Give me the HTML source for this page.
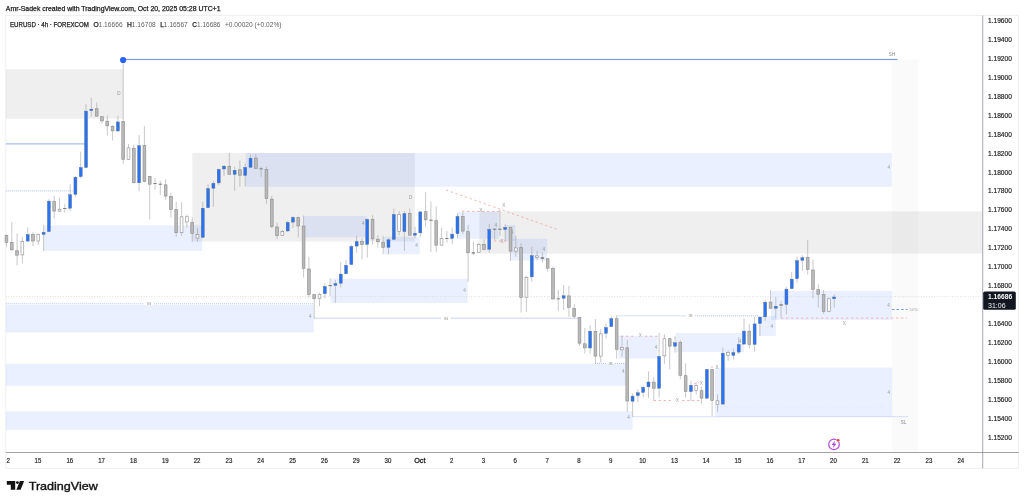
<!DOCTYPE html><html><head><meta charset="utf-8"><title>EURUSD 4h</title><style>html,body{margin:0;padding:0;background:#fff;}svg{display:block;}text{font-family:"Liberation Sans",sans-serif;}</style></head><body>
<svg width="1024" height="503" viewBox="0 0 1024 503">
<rect width="1024" height="503" fill="#fff"/>
<rect x="5.8" y="15.6" width="1012.8000000000001" height="452.7" fill="#fff" stroke="#ececec" stroke-width="0.8"/>
<rect x="892.3" y="59.4" width="26.1" height="393.1" fill="#fafafa"/>
<rect x="5.8" y="69.2" width="117.4" height="49.5" fill="rgba(110,110,110,0.115)"/>
<rect x="192.3" y="153.0" width="222.5" height="88.5" fill="rgba(110,110,110,0.115)"/>
<rect x="479.5" y="211.4" width="503.2" height="42.2" fill="rgba(110,110,110,0.115)"/>
<rect x="43.6" y="225.3" width="158.6" height="25.6" fill="rgba(41,106,255,0.097)"/>
<rect x="245.6" y="153.0" width="646.3" height="33.8" fill="rgba(41,106,255,0.097)"/>
<rect x="303.4" y="215.9" width="63.3" height="21.4" fill="rgba(41,106,255,0.097)"/>
<rect x="384.3" y="236.8" width="35.5" height="17.5" fill="rgba(41,106,255,0.097)"/>
<rect x="457.0" y="211.7" width="41.6" height="27.1" fill="rgba(41,106,255,0.097)"/>
<rect x="505.0" y="225.0" width="10.4" height="16.0" fill="rgba(41,106,255,0.097)"/>
<rect x="511.0" y="238.7" width="36.2" height="21.8" fill="rgba(41,106,255,0.097)"/>
<rect x="330.6" y="278.7" width="137.2" height="24.4" fill="rgba(41,106,255,0.097)"/>
<rect x="5.8" y="305.0" width="307.9" height="27.5" fill="rgba(41,106,255,0.097)"/>
<rect x="5.8" y="363.7" width="620.2" height="22.1" fill="rgba(41,106,255,0.097)"/>
<rect x="5.8" y="411.3" width="626.8" height="18.5" fill="rgba(41,106,255,0.097)"/>
<rect x="618.4" y="335.9" width="39.2" height="22.6" fill="rgba(41,106,255,0.097)"/>
<rect x="675.5" y="333.0" width="68.5" height="19.1" fill="rgba(41,106,255,0.097)"/>
<rect x="758.7" y="315.9" width="17.2" height="20.1" fill="rgba(41,106,255,0.097)"/>
<rect x="770.9" y="290.9" width="121.1" height="29.2" fill="rgba(41,106,255,0.097)"/>
<rect x="715.0" y="367.6" width="177.2" height="49.0" fill="rgba(41,106,255,0.097)"/>
<line x1="5.8" y1="296.7" x2="982.7" y2="296.7" stroke="#d4d4d4" stroke-width="0.8" stroke-dasharray="1 1.6"/>
<line x1="123.2" y1="59.4" x2="897.6" y2="59.4" stroke="#6d8fe6" stroke-width="1"/>
<line x1="5.8" y1="143.9" x2="85.0" y2="143.9" stroke="#8aa5ea" stroke-width="0.9"/>
<line x1="5.8" y1="190.9" x2="73.5" y2="190.9" stroke="#9db4ee" stroke-width="0.8" stroke-dasharray="1 1"/>
<line x1="5.8" y1="303.8" x2="144.0" y2="303.8" stroke="#9db4ee" stroke-width="0.8" stroke-dasharray="1 1"/>
<line x1="154.0" y1="303.8" x2="313.7" y2="303.8" stroke="#9db4ee" stroke-width="0.8" stroke-dasharray="1 1"/>
<line x1="313.8" y1="318.2" x2="441.0" y2="318.2" stroke="#b9c9f4" stroke-width="0.8"/>
<line x1="451.0" y1="318.2" x2="577.7" y2="318.2" stroke="#b9c9f4" stroke-width="0.8"/>
<line x1="595.0" y1="363.4" x2="606.0" y2="363.4" stroke="#9db4ee" stroke-width="0.8" stroke-dasharray="1 1"/>
<line x1="615.0" y1="363.4" x2="626.0" y2="363.4" stroke="#9db4ee" stroke-width="0.8" stroke-dasharray="1 1"/>
<line x1="616.5" y1="315.8" x2="686.0" y2="315.8" stroke="#9db4ee" stroke-width="0.8" stroke-dasharray="1 1"/>
<line x1="695.0" y1="315.8" x2="758.6" y2="315.8" stroke="#9db4ee" stroke-width="0.8" stroke-dasharray="1 1"/>
<line x1="632.6" y1="416.7" x2="908.3" y2="416.7" stroke="#9db4ee" stroke-width="0.8" stroke-dasharray="1 1"/>
<line x1="715.0" y1="406.9" x2="883.8" y2="406.9" stroke="#d5dff7" stroke-width="0.6" stroke-dasharray="1 2"/>
<line x1="892.0" y1="309.5" x2="907.5" y2="309.5" stroke="#5b86e5" stroke-width="0.9" stroke-dasharray="2.4 2.2"/>
<line x1="781.0" y1="318.1" x2="907.0" y2="318.1" stroke="#f3a3a3" stroke-width="0.8" stroke-dasharray="2.4 2.6"/>
<line x1="446.0" y1="190.0" x2="558.0" y2="229.7" stroke="#f3a3a3" stroke-width="0.8" stroke-dasharray="2.4 2.6"/>
<line x1="462.0" y1="211.4" x2="501.0" y2="211.4" stroke="#f3a3a3" stroke-width="0.8" stroke-dasharray="2.4 2.6"/>
<line x1="494.0" y1="241.0" x2="509.0" y2="241.0" stroke="#f3a3a3" stroke-width="0.8" stroke-dasharray="2.4 2.6"/>
<line x1="621.0" y1="336.2" x2="636.0" y2="336.2" stroke="#f3a3a3" stroke-width="0.8" stroke-dasharray="2.4 2.6"/>
<line x1="645.0" y1="336.2" x2="660.0" y2="336.2" stroke="#f3a3a3" stroke-width="0.8" stroke-dasharray="2.4 2.6"/>
<line x1="653.5" y1="400.5" x2="673.0" y2="400.5" stroke="#f3a3a3" stroke-width="0.8" stroke-dasharray="2.4 2.6"/>
<line x1="682.0" y1="400.5" x2="700.0" y2="400.5" stroke="#f3a3a3" stroke-width="0.8" stroke-dasharray="2.4 2.6"/>
<line x1="711.0" y1="367.0" x2="715.0" y2="367.0" stroke="#f3a3a3" stroke-width="0.8" stroke-dasharray="2 2"/>
<line x1="694.0" y1="384.0" x2="699.0" y2="382.5" stroke="#f3a3a3" stroke-width="0.8" stroke-dasharray="2 2"/>
<line x1="6.5" y1="234.3" x2="6.5" y2="246.8" stroke="#9c9c9c" stroke-width="0.55"/>
<rect x="5.06" y="235.4" width="2.8" height="6.9" fill="#b9b9b9" stroke="#8c8c8c" stroke-width="0.6"/>
<line x1="11.8" y1="221.8" x2="11.8" y2="251.0" stroke="#9c9c9c" stroke-width="0.55"/>
<rect x="10.36" y="242.6" width="2.8" height="7.2" fill="#b9b9b9" stroke="#8c8c8c" stroke-width="0.6"/>
<line x1="17.1" y1="233.5" x2="17.1" y2="265.3" stroke="#9c9c9c" stroke-width="0.55"/>
<rect x="15.67" y="250.8" width="2.8" height="4.4" fill="#b9b9b9" stroke="#8c8c8c" stroke-width="0.6"/>
<line x1="22.4" y1="236.8" x2="22.4" y2="263.2" stroke="#9c9c9c" stroke-width="0.55"/>
<rect x="20.97" y="241.6" width="2.8" height="13.3" fill="#fff" stroke="#8c8c8c" stroke-width="0.6"/>
<line x1="27.7" y1="227.3" x2="27.7" y2="241.5" stroke="#9c9c9c" stroke-width="0.55"/>
<rect x="26.18" y="234.5" width="3.0" height="6.6" fill="#2a73f0" stroke="#5b6b8c" stroke-width="0.4"/>
<line x1="33.0" y1="231.8" x2="33.0" y2="246.0" stroke="#9c9c9c" stroke-width="0.55"/>
<rect x="31.59" y="234.6" width="2.8" height="6.4" fill="#b9b9b9" stroke="#8c8c8c" stroke-width="0.6"/>
<line x1="38.3" y1="233.5" x2="38.3" y2="244.8" stroke="#9c9c9c" stroke-width="0.55"/>
<rect x="36.89" y="234.6" width="2.8" height="6.4" fill="#fff" stroke="#8c8c8c" stroke-width="0.6"/>
<line x1="43.6" y1="225.1" x2="43.6" y2="251.0" stroke="#9c9c9c" stroke-width="0.55"/>
<rect x="42.10" y="232.3" width="3.0" height="2.1" fill="#2a73f0" stroke="#5b6b8c" stroke-width="0.4"/>
<line x1="48.9" y1="199.2" x2="48.9" y2="231.9" stroke="#9c9c9c" stroke-width="0.55"/>
<rect x="47.40" y="201.1" width="3.0" height="30.5" fill="#2a73f0" stroke="#5b6b8c" stroke-width="0.4"/>
<line x1="54.2" y1="195.9" x2="54.2" y2="218.8" stroke="#9c9c9c" stroke-width="0.55"/>
<rect x="52.81" y="201.5" width="2.8" height="9.6" fill="#b9b9b9" stroke="#8c8c8c" stroke-width="0.6"/>
<line x1="59.5" y1="197.5" x2="59.5" y2="212.1" stroke="#9c9c9c" stroke-width="0.55"/>
<rect x="58.12" y="209.2" width="2.8" height="1.9" fill="#fff" stroke="#8c8c8c" stroke-width="0.6"/>
<line x1="64.8" y1="204.2" x2="64.8" y2="212.6" stroke="#9c9c9c" stroke-width="0.55"/>
<rect x="63.12" y="208.1" width="3.4" height="0.9" fill="#777"/>
<line x1="70.1" y1="184.2" x2="70.1" y2="211.4" stroke="#9c9c9c" stroke-width="0.55"/>
<rect x="68.63" y="194.7" width="3.0" height="13.5" fill="#2a73f0" stroke="#5b6b8c" stroke-width="0.4"/>
<line x1="75.4" y1="175.8" x2="75.4" y2="196.7" stroke="#9c9c9c" stroke-width="0.55"/>
<rect x="73.93" y="177.2" width="3.0" height="17.1" fill="#2a73f0" stroke="#5b6b8c" stroke-width="0.4"/>
<line x1="80.7" y1="151.8" x2="80.7" y2="178.5" stroke="#9c9c9c" stroke-width="0.55"/>
<rect x="79.24" y="167.5" width="3.0" height="9.1" fill="#2a73f0" stroke="#5b6b8c" stroke-width="0.4"/>
<line x1="86.0" y1="104.2" x2="86.0" y2="168.0" stroke="#9c9c9c" stroke-width="0.55"/>
<rect x="84.55" y="111.1" width="3.0" height="56.4" fill="#2a73f0" stroke="#5b6b8c" stroke-width="0.4"/>
<line x1="91.3" y1="97.5" x2="91.3" y2="116.7" stroke="#9c9c9c" stroke-width="0.55"/>
<rect x="89.85" y="109.1" width="3.0" height="1.6" fill="#2a73f0" stroke="#5b6b8c" stroke-width="0.4"/>
<line x1="96.7" y1="102.5" x2="96.7" y2="116.7" stroke="#9c9c9c" stroke-width="0.55"/>
<rect x="95.26" y="108.7" width="2.8" height="7.4" fill="#b9b9b9" stroke="#8c8c8c" stroke-width="0.6"/>
<line x1="102.0" y1="116.0" x2="102.0" y2="123.4" stroke="#9c9c9c" stroke-width="0.55"/>
<rect x="100.56" y="116.7" width="2.8" height="4.2" fill="#b9b9b9" stroke="#8c8c8c" stroke-width="0.6"/>
<line x1="107.3" y1="115.4" x2="107.3" y2="135.6" stroke="#9c9c9c" stroke-width="0.55"/>
<rect x="105.87" y="121.2" width="2.8" height="4.7" fill="#b9b9b9" stroke="#8c8c8c" stroke-width="0.6"/>
<line x1="112.6" y1="125.1" x2="112.6" y2="140.6" stroke="#9c9c9c" stroke-width="0.55"/>
<rect x="111.18" y="126.5" width="2.8" height="4.4" fill="#b9b9b9" stroke="#8c8c8c" stroke-width="0.6"/>
<line x1="117.9" y1="115.9" x2="117.9" y2="131.4" stroke="#9c9c9c" stroke-width="0.55"/>
<rect x="116.38" y="121.9" width="3.0" height="9.1" fill="#2a73f0" stroke="#5b6b8c" stroke-width="0.4"/>
<line x1="123.2" y1="59.9" x2="123.2" y2="164.0" stroke="#9c9c9c" stroke-width="0.55"/>
<rect x="121.79" y="121.5" width="2.8" height="37.8" fill="#b9b9b9" stroke="#8c8c8c" stroke-width="0.6"/>
<line x1="128.5" y1="143.9" x2="128.5" y2="159.8" stroke="#9c9c9c" stroke-width="0.55"/>
<rect x="127.09" y="147.9" width="2.8" height="11.4" fill="#fff" stroke="#8c8c8c" stroke-width="0.6"/>
<line x1="133.8" y1="144.3" x2="133.8" y2="183.5" stroke="#9c9c9c" stroke-width="0.55"/>
<rect x="132.40" y="148.2" width="2.8" height="34.5" fill="#b9b9b9" stroke="#8c8c8c" stroke-width="0.6"/>
<line x1="139.1" y1="135.1" x2="139.1" y2="191.0" stroke="#9c9c9c" stroke-width="0.55"/>
<rect x="137.61" y="145.6" width="3.0" height="37.2" fill="#2a73f0" stroke="#5b6b8c" stroke-width="0.4"/>
<line x1="144.4" y1="125.9" x2="144.4" y2="182.2" stroke="#9c9c9c" stroke-width="0.55"/>
<rect x="143.01" y="145.4" width="2.8" height="36.1" fill="#b9b9b9" stroke="#8c8c8c" stroke-width="0.6"/>
<line x1="149.7" y1="176.0" x2="149.7" y2="219.3" stroke="#9c9c9c" stroke-width="0.55"/>
<rect x="148.32" y="176.6" width="2.8" height="7.6" fill="#b9b9b9" stroke="#8c8c8c" stroke-width="0.6"/>
<line x1="155.0" y1="178.0" x2="155.0" y2="189.7" stroke="#9c9c9c" stroke-width="0.55"/>
<rect x="153.32" y="183.0" width="3.4" height="0.9" fill="#777"/>
<line x1="160.3" y1="180.8" x2="160.3" y2="195.0" stroke="#9c9c9c" stroke-width="0.55"/>
<rect x="158.63" y="183.7" width="3.4" height="1.0" fill="#777"/>
<line x1="165.6" y1="179.2" x2="165.6" y2="200.1" stroke="#9c9c9c" stroke-width="0.55"/>
<rect x="164.24" y="184.8" width="2.8" height="11.3" fill="#b9b9b9" stroke="#8c8c8c" stroke-width="0.6"/>
<line x1="170.9" y1="192.6" x2="170.9" y2="217.6" stroke="#9c9c9c" stroke-width="0.55"/>
<rect x="169.54" y="196.6" width="2.8" height="12.8" fill="#b9b9b9" stroke="#8c8c8c" stroke-width="0.6"/>
<line x1="176.2" y1="201.8" x2="176.2" y2="236.8" stroke="#9c9c9c" stroke-width="0.55"/>
<rect x="174.85" y="209.6" width="2.8" height="23.1" fill="#b9b9b9" stroke="#8c8c8c" stroke-width="0.6"/>
<line x1="181.6" y1="202.3" x2="181.6" y2="236.0" stroke="#9c9c9c" stroke-width="0.55"/>
<rect x="180.15" y="216.8" width="2.8" height="15.9" fill="#fff" stroke="#8c8c8c" stroke-width="0.6"/>
<line x1="186.9" y1="214.3" x2="186.9" y2="227.7" stroke="#9c9c9c" stroke-width="0.55"/>
<rect x="185.46" y="216.8" width="2.8" height="5.2" fill="#fff" stroke="#8c8c8c" stroke-width="0.6"/>
<line x1="192.2" y1="217.5" x2="192.2" y2="241.7" stroke="#9c9c9c" stroke-width="0.55"/>
<rect x="190.77" y="222.5" width="2.8" height="11.1" fill="#b9b9b9" stroke="#8c8c8c" stroke-width="0.6"/>
<line x1="197.5" y1="228.3" x2="197.5" y2="241.7" stroke="#9c9c9c" stroke-width="0.55"/>
<rect x="196.07" y="234.5" width="2.8" height="3.6" fill="#fff" stroke="#8c8c8c" stroke-width="0.6"/>
<line x1="202.8" y1="201.6" x2="202.8" y2="237.7" stroke="#9c9c9c" stroke-width="0.55"/>
<rect x="201.28" y="208.2" width="3.0" height="29.2" fill="#2a73f0" stroke="#5b6b8c" stroke-width="0.4"/>
<line x1="208.1" y1="184.2" x2="208.1" y2="208.1" stroke="#9c9c9c" stroke-width="0.55"/>
<rect x="206.58" y="188.6" width="3.0" height="19.1" fill="#2a73f0" stroke="#5b6b8c" stroke-width="0.4"/>
<line x1="213.4" y1="180.9" x2="213.4" y2="206.8" stroke="#9c9c9c" stroke-width="0.55"/>
<rect x="211.89" y="183.3" width="3.0" height="4.9" fill="#2a73f0" stroke="#5b6b8c" stroke-width="0.4"/>
<line x1="218.7" y1="168.7" x2="218.7" y2="185.1" stroke="#9c9c9c" stroke-width="0.55"/>
<rect x="217.20" y="169.4" width="3.0" height="13.5" fill="#2a73f0" stroke="#5b6b8c" stroke-width="0.4"/>
<line x1="224.0" y1="165.0" x2="224.0" y2="175.9" stroke="#9c9c9c" stroke-width="0.55"/>
<rect x="222.50" y="166.1" width="3.0" height="2.9" fill="#2a73f0" stroke="#5b6b8c" stroke-width="0.4"/>
<line x1="229.3" y1="153.0" x2="229.3" y2="174.7" stroke="#9c9c9c" stroke-width="0.55"/>
<rect x="227.91" y="166.2" width="2.8" height="8.1" fill="#b9b9b9" stroke="#8c8c8c" stroke-width="0.6"/>
<line x1="234.6" y1="166.7" x2="234.6" y2="190.9" stroke="#9c9c9c" stroke-width="0.55"/>
<rect x="233.11" y="170.2" width="3.0" height="4.1" fill="#2a73f0" stroke="#5b6b8c" stroke-width="0.4"/>
<line x1="239.9" y1="160.4" x2="239.9" y2="186.7" stroke="#9c9c9c" stroke-width="0.55"/>
<rect x="238.52" y="169.8" width="2.8" height="5.4" fill="#b9b9b9" stroke="#8c8c8c" stroke-width="0.6"/>
<line x1="245.2" y1="163.4" x2="245.2" y2="186.4" stroke="#9c9c9c" stroke-width="0.55"/>
<rect x="243.73" y="167.4" width="3.0" height="8.0" fill="#2a73f0" stroke="#5b6b8c" stroke-width="0.4"/>
<line x1="250.5" y1="154.2" x2="250.5" y2="167.7" stroke="#9c9c9c" stroke-width="0.55"/>
<rect x="249.03" y="158.2" width="3.0" height="9.1" fill="#2a73f0" stroke="#5b6b8c" stroke-width="0.4"/>
<line x1="255.8" y1="154.2" x2="255.8" y2="168.9" stroke="#9c9c9c" stroke-width="0.55"/>
<rect x="254.44" y="158.1" width="2.8" height="10.3" fill="#b9b9b9" stroke="#8c8c8c" stroke-width="0.6"/>
<line x1="261.1" y1="166.7" x2="261.1" y2="176.7" stroke="#9c9c9c" stroke-width="0.55"/>
<rect x="259.44" y="168.4" width="3.4" height="0.9" fill="#777"/>
<line x1="266.4" y1="166.7" x2="266.4" y2="203.8" stroke="#9c9c9c" stroke-width="0.55"/>
<rect x="265.05" y="169.5" width="2.8" height="29.0" fill="#b9b9b9" stroke="#8c8c8c" stroke-width="0.6"/>
<line x1="271.8" y1="195.9" x2="271.8" y2="228.5" stroke="#9c9c9c" stroke-width="0.55"/>
<rect x="270.36" y="199.1" width="2.8" height="27.5" fill="#b9b9b9" stroke="#8c8c8c" stroke-width="0.6"/>
<line x1="277.1" y1="222.5" x2="277.1" y2="239.2" stroke="#9c9c9c" stroke-width="0.55"/>
<rect x="275.66" y="227.0" width="2.8" height="8.6" fill="#b9b9b9" stroke="#8c8c8c" stroke-width="0.6"/>
<line x1="282.4" y1="230.0" x2="282.4" y2="236.0" stroke="#9c9c9c" stroke-width="0.55"/>
<rect x="280.97" y="231.6" width="2.8" height="3.9" fill="#fff" stroke="#8c8c8c" stroke-width="0.6"/>
<line x1="287.7" y1="220.8" x2="287.7" y2="231.7" stroke="#9c9c9c" stroke-width="0.55"/>
<rect x="286.17" y="222.4" width="3.0" height="8.6" fill="#2a73f0" stroke="#5b6b8c" stroke-width="0.4"/>
<line x1="293.0" y1="216.0" x2="293.0" y2="228.2" stroke="#9c9c9c" stroke-width="0.55"/>
<rect x="291.48" y="217.5" width="3.0" height="4.6" fill="#2a73f0" stroke="#5b6b8c" stroke-width="0.4"/>
<line x1="298.3" y1="216.5" x2="298.3" y2="237.5" stroke="#9c9c9c" stroke-width="0.55"/>
<rect x="296.89" y="217.6" width="2.8" height="8.4" fill="#b9b9b9" stroke="#8c8c8c" stroke-width="0.6"/>
<line x1="303.6" y1="215.5" x2="303.6" y2="277.6" stroke="#9c9c9c" stroke-width="0.55"/>
<rect x="302.19" y="226.1" width="2.8" height="42.3" fill="#b9b9b9" stroke="#8c8c8c" stroke-width="0.6"/>
<line x1="308.9" y1="256.7" x2="308.9" y2="297.6" stroke="#9c9c9c" stroke-width="0.55"/>
<rect x="307.50" y="269.0" width="2.8" height="25.3" fill="#b9b9b9" stroke="#8c8c8c" stroke-width="0.6"/>
<line x1="314.2" y1="293.9" x2="314.2" y2="318.5" stroke="#9c9c9c" stroke-width="0.55"/>
<rect x="312.80" y="294.6" width="2.8" height="4.1" fill="#b9b9b9" stroke="#8c8c8c" stroke-width="0.6"/>
<line x1="319.5" y1="292.6" x2="319.5" y2="306.0" stroke="#9c9c9c" stroke-width="0.55"/>
<rect x="318.11" y="294.3" width="2.8" height="4.4" fill="#fff" stroke="#8c8c8c" stroke-width="0.6"/>
<line x1="324.8" y1="283.5" x2="324.8" y2="298.5" stroke="#9c9c9c" stroke-width="0.55"/>
<rect x="323.32" y="286.5" width="3.0" height="7.3" fill="#2a73f0" stroke="#5b6b8c" stroke-width="0.4"/>
<line x1="330.1" y1="278.4" x2="330.1" y2="295.9" stroke="#9c9c9c" stroke-width="0.55"/>
<rect x="328.42" y="285.1" width="3.4" height="1.0" fill="#777"/>
<line x1="335.4" y1="280.1" x2="335.4" y2="302.6" stroke="#9c9c9c" stroke-width="0.55"/>
<rect x="333.93" y="283.6" width="3.0" height="1.8" fill="#2a73f0" stroke="#5b6b8c" stroke-width="0.4"/>
<line x1="340.7" y1="262.5" x2="340.7" y2="287.6" stroke="#9c9c9c" stroke-width="0.55"/>
<rect x="339.23" y="274.1" width="3.0" height="9.1" fill="#2a73f0" stroke="#5b6b8c" stroke-width="0.4"/>
<line x1="346.0" y1="260.0" x2="346.0" y2="274.2" stroke="#9c9c9c" stroke-width="0.55"/>
<rect x="344.54" y="265.3" width="3.0" height="8.5" fill="#2a73f0" stroke="#5b6b8c" stroke-width="0.4"/>
<line x1="351.4" y1="244.3" x2="351.4" y2="264.8" stroke="#9c9c9c" stroke-width="0.55"/>
<rect x="349.85" y="246.5" width="3.0" height="18.0" fill="#2a73f0" stroke="#5b6b8c" stroke-width="0.4"/>
<line x1="356.6" y1="235.9" x2="356.6" y2="252.6" stroke="#9c9c9c" stroke-width="0.55"/>
<rect x="355.15" y="241.5" width="3.0" height="4.6" fill="#2a73f0" stroke="#5b6b8c" stroke-width="0.4"/>
<line x1="362.0" y1="238.4" x2="362.0" y2="259.3" stroke="#9c9c9c" stroke-width="0.55"/>
<rect x="360.56" y="241.6" width="2.8" height="2.7" fill="#b9b9b9" stroke="#8c8c8c" stroke-width="0.6"/>
<line x1="367.3" y1="218.4" x2="367.3" y2="257.6" stroke="#9c9c9c" stroke-width="0.55"/>
<rect x="365.76" y="219.4" width="3.0" height="25.0" fill="#2a73f0" stroke="#5b6b8c" stroke-width="0.4"/>
<line x1="372.6" y1="215.1" x2="372.6" y2="244.6" stroke="#9c9c9c" stroke-width="0.55"/>
<rect x="371.17" y="219.5" width="2.8" height="19.4" fill="#b9b9b9" stroke="#8c8c8c" stroke-width="0.6"/>
<line x1="377.9" y1="235.1" x2="377.9" y2="247.6" stroke="#9c9c9c" stroke-width="0.55"/>
<rect x="376.48" y="239.2" width="2.8" height="2.6" fill="#b9b9b9" stroke="#8c8c8c" stroke-width="0.6"/>
<line x1="383.2" y1="235.9" x2="383.2" y2="254.3" stroke="#9c9c9c" stroke-width="0.55"/>
<rect x="381.78" y="242.1" width="2.8" height="5.2" fill="#b9b9b9" stroke="#8c8c8c" stroke-width="0.6"/>
<line x1="388.5" y1="238.4" x2="388.5" y2="254.3" stroke="#9c9c9c" stroke-width="0.55"/>
<rect x="386.99" y="239.8" width="3.0" height="7.6" fill="#2a73f0" stroke="#5b6b8c" stroke-width="0.4"/>
<line x1="393.8" y1="208.4" x2="393.8" y2="239.8" stroke="#9c9c9c" stroke-width="0.55"/>
<rect x="392.29" y="214.4" width="3.0" height="25.0" fill="#2a73f0" stroke="#5b6b8c" stroke-width="0.4"/>
<line x1="399.1" y1="210.9" x2="399.1" y2="235.1" stroke="#9c9c9c" stroke-width="0.55"/>
<rect x="397.70" y="214.5" width="2.8" height="16.9" fill="#fff" stroke="#8c8c8c" stroke-width="0.6"/>
<line x1="404.4" y1="210.9" x2="404.4" y2="251.0" stroke="#9c9c9c" stroke-width="0.55"/>
<rect x="402.91" y="213.6" width="3.0" height="18.0" fill="#2a73f0" stroke="#5b6b8c" stroke-width="0.4"/>
<line x1="409.7" y1="208.4" x2="409.7" y2="235.6" stroke="#9c9c9c" stroke-width="0.55"/>
<rect x="408.31" y="213.4" width="2.8" height="21.8" fill="#b9b9b9" stroke="#8c8c8c" stroke-width="0.6"/>
<line x1="415.0" y1="226.8" x2="415.0" y2="238.1" stroke="#9c9c9c" stroke-width="0.55"/>
<rect x="413.52" y="233.3" width="3.0" height="1.9" fill="#2a73f0" stroke="#5b6b8c" stroke-width="0.4"/>
<line x1="420.3" y1="211.4" x2="420.3" y2="236.8" stroke="#9c9c9c" stroke-width="0.55"/>
<rect x="418.82" y="211.9" width="3.0" height="21.0" fill="#2a73f0" stroke="#5b6b8c" stroke-width="0.4"/>
<line x1="425.6" y1="192.0" x2="425.6" y2="226.8" stroke="#9c9c9c" stroke-width="0.55"/>
<rect x="424.23" y="211.7" width="2.8" height="8.1" fill="#b9b9b9" stroke="#8c8c8c" stroke-width="0.6"/>
<line x1="430.9" y1="201.4" x2="430.9" y2="251.8" stroke="#9c9c9c" stroke-width="0.55"/>
<rect x="429.24" y="219.7" width="3.4" height="1.0" fill="#777"/>
<line x1="436.2" y1="206.4" x2="436.2" y2="251.8" stroke="#9c9c9c" stroke-width="0.55"/>
<rect x="434.84" y="220.7" width="2.8" height="24.5" fill="#b9b9b9" stroke="#8c8c8c" stroke-width="0.6"/>
<line x1="441.6" y1="227.6" x2="441.6" y2="245.6" stroke="#9c9c9c" stroke-width="0.55"/>
<rect x="440.15" y="238.4" width="2.8" height="6.7" fill="#fff" stroke="#8c8c8c" stroke-width="0.6"/>
<line x1="446.9" y1="230.9" x2="446.9" y2="242.6" stroke="#9c9c9c" stroke-width="0.55"/>
<rect x="445.15" y="238.1" width="3.4" height="0.9" fill="#777"/>
<line x1="452.2" y1="227.6" x2="452.2" y2="243.8" stroke="#9c9c9c" stroke-width="0.55"/>
<rect x="450.66" y="234.1" width="3.0" height="4.4" fill="#2a73f0" stroke="#5b6b8c" stroke-width="0.4"/>
<line x1="457.5" y1="213.4" x2="457.5" y2="238.4" stroke="#9c9c9c" stroke-width="0.55"/>
<rect x="455.97" y="216.4" width="3.0" height="17.3" fill="#2a73f0" stroke="#5b6b8c" stroke-width="0.4"/>
<line x1="462.8" y1="212.1" x2="462.8" y2="234.3" stroke="#9c9c9c" stroke-width="0.55"/>
<rect x="461.37" y="216.5" width="2.8" height="14.6" fill="#b9b9b9" stroke="#8c8c8c" stroke-width="0.6"/>
<line x1="468.1" y1="225.1" x2="468.1" y2="281.7" stroke="#9c9c9c" stroke-width="0.55"/>
<rect x="466.68" y="231.7" width="2.8" height="21.1" fill="#b9b9b9" stroke="#8c8c8c" stroke-width="0.6"/>
<line x1="473.4" y1="241.3" x2="473.4" y2="255.1" stroke="#9c9c9c" stroke-width="0.55"/>
<rect x="471.68" y="252.3" width="3.4" height="1.2" fill="#777"/>
<line x1="478.7" y1="242.6" x2="478.7" y2="253.0" stroke="#9c9c9c" stroke-width="0.55"/>
<rect x="477.29" y="244.6" width="2.8" height="7.8" fill="#fff" stroke="#8c8c8c" stroke-width="0.6"/>
<line x1="484.0" y1="239.3" x2="484.0" y2="250.1" stroke="#9c9c9c" stroke-width="0.55"/>
<rect x="482.60" y="244.6" width="2.8" height="4.7" fill="#b9b9b9" stroke="#8c8c8c" stroke-width="0.6"/>
<line x1="489.3" y1="224.2" x2="489.3" y2="252.6" stroke="#9c9c9c" stroke-width="0.55"/>
<rect x="487.80" y="229.4" width="3.0" height="20.0" fill="#2a73f0" stroke="#5b6b8c" stroke-width="0.4"/>
<line x1="494.6" y1="228.4" x2="494.6" y2="240.1" stroke="#9c9c9c" stroke-width="0.55"/>
<rect x="492.91" y="228.7" width="3.4" height="1.0" fill="#777"/>
<line x1="499.9" y1="210.0" x2="499.9" y2="235.9" stroke="#9c9c9c" stroke-width="0.55"/>
<rect x="498.21" y="228.7" width="3.4" height="1.0" fill="#777"/>
<line x1="505.2" y1="224.2" x2="505.2" y2="240.9" stroke="#9c9c9c" stroke-width="0.55"/>
<rect x="503.72" y="227.4" width="3.0" height="2.1" fill="#2a73f0" stroke="#5b6b8c" stroke-width="0.4"/>
<line x1="510.5" y1="226.7" x2="510.5" y2="261.0" stroke="#9c9c9c" stroke-width="0.55"/>
<rect x="509.13" y="227.5" width="2.8" height="23.6" fill="#b9b9b9" stroke="#8c8c8c" stroke-width="0.6"/>
<line x1="515.8" y1="235.9" x2="515.8" y2="256.8" stroke="#9c9c9c" stroke-width="0.55"/>
<rect x="514.43" y="247.9" width="2.8" height="3.2" fill="#fff" stroke="#8c8c8c" stroke-width="0.6"/>
<line x1="521.1" y1="243.3" x2="521.1" y2="312.6" stroke="#9c9c9c" stroke-width="0.55"/>
<rect x="519.74" y="247.6" width="2.8" height="49.7" fill="#b9b9b9" stroke="#8c8c8c" stroke-width="0.6"/>
<line x1="526.4" y1="275.8" x2="526.4" y2="311.8" stroke="#9c9c9c" stroke-width="0.55"/>
<rect x="525.04" y="277.3" width="2.8" height="19.9" fill="#fff" stroke="#8c8c8c" stroke-width="0.6"/>
<line x1="531.8" y1="246.8" x2="531.8" y2="281.8" stroke="#9c9c9c" stroke-width="0.55"/>
<rect x="530.25" y="255.6" width="3.0" height="21.3" fill="#2a73f0" stroke="#5b6b8c" stroke-width="0.4"/>
<line x1="537.1" y1="250.9" x2="537.1" y2="260.1" stroke="#9c9c9c" stroke-width="0.55"/>
<rect x="535.66" y="255.9" width="2.8" height="1.4" fill="#fff" stroke="#8c8c8c" stroke-width="0.6"/>
<line x1="542.4" y1="252.6" x2="542.4" y2="262.6" stroke="#9c9c9c" stroke-width="0.55"/>
<rect x="540.66" y="257.3" width="3.4" height="1.5" fill="#777"/>
<line x1="547.7" y1="257.6" x2="547.7" y2="271.8" stroke="#9c9c9c" stroke-width="0.55"/>
<rect x="546.27" y="258.8" width="2.8" height="9.4" fill="#b9b9b9" stroke="#8c8c8c" stroke-width="0.6"/>
<line x1="553.0" y1="266.7" x2="553.0" y2="299.4" stroke="#9c9c9c" stroke-width="0.55"/>
<rect x="551.57" y="268.5" width="2.8" height="30.5" fill="#b9b9b9" stroke="#8c8c8c" stroke-width="0.6"/>
<line x1="558.3" y1="289.7" x2="558.3" y2="310.9" stroke="#9c9c9c" stroke-width="0.55"/>
<rect x="556.58" y="298.4" width="3.4" height="0.9" fill="#777"/>
<line x1="563.6" y1="285.0" x2="563.6" y2="310.1" stroke="#9c9c9c" stroke-width="0.55"/>
<rect x="562.09" y="295.8" width="3.0" height="2.4" fill="#2a73f0" stroke="#5b6b8c" stroke-width="0.4"/>
<line x1="568.9" y1="285.9" x2="568.9" y2="316.8" stroke="#9c9c9c" stroke-width="0.55"/>
<rect x="567.49" y="295.9" width="2.8" height="11.4" fill="#b9b9b9" stroke="#8c8c8c" stroke-width="0.6"/>
<line x1="574.2" y1="304.2" x2="574.2" y2="318.4" stroke="#9c9c9c" stroke-width="0.55"/>
<rect x="572.80" y="308.4" width="2.8" height="8.1" fill="#b9b9b9" stroke="#8c8c8c" stroke-width="0.6"/>
<line x1="579.5" y1="316.8" x2="579.5" y2="346.0" stroke="#9c9c9c" stroke-width="0.55"/>
<rect x="578.10" y="317.4" width="2.8" height="25.8" fill="#b9b9b9" stroke="#8c8c8c" stroke-width="0.6"/>
<line x1="584.8" y1="328.1" x2="584.8" y2="353.5" stroke="#9c9c9c" stroke-width="0.55"/>
<rect x="583.41" y="343.8" width="2.8" height="4.1" fill="#b9b9b9" stroke="#8c8c8c" stroke-width="0.6"/>
<line x1="590.1" y1="325.1" x2="590.1" y2="353.5" stroke="#9c9c9c" stroke-width="0.55"/>
<rect x="588.62" y="331.2" width="3.0" height="16.8" fill="#2a73f0" stroke="#5b6b8c" stroke-width="0.4"/>
<line x1="595.4" y1="319.0" x2="595.4" y2="363.4" stroke="#9c9c9c" stroke-width="0.55"/>
<rect x="594.02" y="331.3" width="2.8" height="24.8" fill="#b9b9b9" stroke="#8c8c8c" stroke-width="0.6"/>
<line x1="600.7" y1="329.1" x2="600.7" y2="362.5" stroke="#9c9c9c" stroke-width="0.55"/>
<rect x="599.33" y="333.8" width="2.8" height="22.3" fill="#fff" stroke="#8c8c8c" stroke-width="0.6"/>
<line x1="606.0" y1="323.4" x2="606.0" y2="338.5" stroke="#9c9c9c" stroke-width="0.55"/>
<rect x="604.53" y="327.5" width="3.0" height="5.8" fill="#2a73f0" stroke="#5b6b8c" stroke-width="0.4"/>
<line x1="611.3" y1="316.2" x2="611.3" y2="327.1" stroke="#9c9c9c" stroke-width="0.55"/>
<rect x="609.84" y="318.6" width="3.0" height="8.0" fill="#2a73f0" stroke="#5b6b8c" stroke-width="0.4"/>
<line x1="616.6" y1="315.9" x2="616.6" y2="358.5" stroke="#9c9c9c" stroke-width="0.55"/>
<rect x="615.25" y="318.7" width="2.8" height="30.6" fill="#b9b9b9" stroke="#8c8c8c" stroke-width="0.6"/>
<line x1="622.0" y1="335.9" x2="622.0" y2="356.8" stroke="#9c9c9c" stroke-width="0.55"/>
<rect x="620.55" y="347.6" width="2.8" height="2.2" fill="#fff" stroke="#8c8c8c" stroke-width="0.6"/>
<line x1="627.3" y1="340.0" x2="627.3" y2="411.8" stroke="#9c9c9c" stroke-width="0.55"/>
<rect x="625.86" y="347.8" width="2.8" height="53.3" fill="#b9b9b9" stroke="#8c8c8c" stroke-width="0.6"/>
<line x1="632.6" y1="393.4" x2="632.6" y2="416.8" stroke="#9c9c9c" stroke-width="0.55"/>
<rect x="631.06" y="396.1" width="3.0" height="5.1" fill="#2a73f0" stroke="#5b6b8c" stroke-width="0.4"/>
<line x1="637.9" y1="389.3" x2="637.9" y2="402.1" stroke="#9c9c9c" stroke-width="0.55"/>
<rect x="636.37" y="392.8" width="3.0" height="2.9" fill="#2a73f0" stroke="#5b6b8c" stroke-width="0.4"/>
<line x1="643.2" y1="385.9" x2="643.2" y2="397.1" stroke="#9c9c9c" stroke-width="0.55"/>
<rect x="641.68" y="387.3" width="3.0" height="5.1" fill="#2a73f0" stroke="#5b6b8c" stroke-width="0.4"/>
<line x1="648.5" y1="371.4" x2="648.5" y2="398.1" stroke="#9c9c9c" stroke-width="0.55"/>
<rect x="646.98" y="382.0" width="3.0" height="4.9" fill="#2a73f0" stroke="#5b6b8c" stroke-width="0.4"/>
<line x1="653.8" y1="377.1" x2="653.8" y2="400.5" stroke="#9c9c9c" stroke-width="0.55"/>
<rect x="652.39" y="382.1" width="2.8" height="6.1" fill="#b9b9b9" stroke="#8c8c8c" stroke-width="0.6"/>
<line x1="659.1" y1="332.7" x2="659.1" y2="397.6" stroke="#9c9c9c" stroke-width="0.55"/>
<rect x="657.59" y="356.4" width="3.0" height="31.8" fill="#2a73f0" stroke="#5b6b8c" stroke-width="0.4"/>
<line x1="664.4" y1="334.2" x2="664.4" y2="364.2" stroke="#9c9c9c" stroke-width="0.55"/>
<rect x="663.00" y="338.8" width="2.8" height="17.1" fill="#fff" stroke="#8c8c8c" stroke-width="0.6"/>
<line x1="669.7" y1="337.6" x2="669.7" y2="369.3" stroke="#9c9c9c" stroke-width="0.55"/>
<rect x="668.31" y="338.7" width="2.8" height="7.4" fill="#b9b9b9" stroke="#8c8c8c" stroke-width="0.6"/>
<line x1="675.0" y1="335.9" x2="675.0" y2="352.6" stroke="#9c9c9c" stroke-width="0.55"/>
<rect x="673.51" y="342.8" width="3.0" height="3.4" fill="#2a73f0" stroke="#5b6b8c" stroke-width="0.4"/>
<line x1="680.3" y1="340.0" x2="680.3" y2="379.2" stroke="#9c9c9c" stroke-width="0.55"/>
<rect x="678.92" y="342.3" width="2.8" height="33.0" fill="#b9b9b9" stroke="#8c8c8c" stroke-width="0.6"/>
<line x1="685.6" y1="363.4" x2="685.6" y2="397.6" stroke="#9c9c9c" stroke-width="0.55"/>
<rect x="684.22" y="375.7" width="2.8" height="15.8" fill="#b9b9b9" stroke="#8c8c8c" stroke-width="0.6"/>
<line x1="690.9" y1="380.9" x2="690.9" y2="401.0" stroke="#9c9c9c" stroke-width="0.55"/>
<rect x="689.43" y="385.3" width="3.0" height="6.3" fill="#2a73f0" stroke="#5b6b8c" stroke-width="0.4"/>
<line x1="696.2" y1="382.6" x2="696.2" y2="394.3" stroke="#9c9c9c" stroke-width="0.55"/>
<rect x="694.84" y="385.4" width="2.8" height="4.9" fill="#fff" stroke="#8c8c8c" stroke-width="0.6"/>
<line x1="701.5" y1="386.8" x2="701.5" y2="403.8" stroke="#9c9c9c" stroke-width="0.55"/>
<rect x="700.14" y="390.7" width="2.8" height="7.4" fill="#b9b9b9" stroke="#8c8c8c" stroke-width="0.6"/>
<line x1="706.9" y1="368.9" x2="706.9" y2="398.8" stroke="#9c9c9c" stroke-width="0.55"/>
<rect x="705.35" y="369.4" width="3.0" height="28.8" fill="#2a73f0" stroke="#5b6b8c" stroke-width="0.4"/>
<line x1="712.1" y1="368.9" x2="712.1" y2="416.0" stroke="#9c9c9c" stroke-width="0.55"/>
<rect x="710.75" y="369.5" width="2.8" height="30.8" fill="#b9b9b9" stroke="#8c8c8c" stroke-width="0.6"/>
<line x1="717.5" y1="394.3" x2="717.5" y2="411.8" stroke="#9c9c9c" stroke-width="0.55"/>
<rect x="716.06" y="400.8" width="2.8" height="3.6" fill="#fff" stroke="#8c8c8c" stroke-width="0.6"/>
<line x1="722.8" y1="347.5" x2="722.8" y2="404.5" stroke="#9c9c9c" stroke-width="0.55"/>
<rect x="721.27" y="353.1" width="3.0" height="51.0" fill="#2a73f0" stroke="#5b6b8c" stroke-width="0.4"/>
<line x1="728.1" y1="350.0" x2="728.1" y2="360.9" stroke="#9c9c9c" stroke-width="0.55"/>
<rect x="726.67" y="352.5" width="2.8" height="2.7" fill="#fff" stroke="#8c8c8c" stroke-width="0.6"/>
<line x1="733.4" y1="348.4" x2="733.4" y2="359.6" stroke="#9c9c9c" stroke-width="0.55"/>
<rect x="731.88" y="352.5" width="3.0" height="2.9" fill="#2a73f0" stroke="#5b6b8c" stroke-width="0.4"/>
<line x1="738.7" y1="337.1" x2="738.7" y2="354.3" stroke="#9c9c9c" stroke-width="0.55"/>
<rect x="737.18" y="344.5" width="3.0" height="7.6" fill="#2a73f0" stroke="#5b6b8c" stroke-width="0.4"/>
<line x1="744.0" y1="318.4" x2="744.0" y2="344.6" stroke="#9c9c9c" stroke-width="0.55"/>
<rect x="742.49" y="331.1" width="3.0" height="13.0" fill="#2a73f0" stroke="#5b6b8c" stroke-width="0.4"/>
<line x1="749.3" y1="324.2" x2="749.3" y2="348.4" stroke="#9c9c9c" stroke-width="0.55"/>
<rect x="747.90" y="331.2" width="2.8" height="13.1" fill="#b9b9b9" stroke="#8c8c8c" stroke-width="0.6"/>
<line x1="754.6" y1="316.7" x2="754.6" y2="351.8" stroke="#9c9c9c" stroke-width="0.55"/>
<rect x="753.10" y="323.9" width="3.0" height="20.5" fill="#2a73f0" stroke="#5b6b8c" stroke-width="0.4"/>
<line x1="759.9" y1="315.9" x2="759.9" y2="335.9" stroke="#9c9c9c" stroke-width="0.55"/>
<rect x="758.41" y="317.2" width="3.0" height="6.3" fill="#2a73f0" stroke="#5b6b8c" stroke-width="0.4"/>
<line x1="765.2" y1="300.0" x2="765.2" y2="320.9" stroke="#9c9c9c" stroke-width="0.55"/>
<rect x="763.71" y="302.2" width="3.0" height="14.6" fill="#2a73f0" stroke="#5b6b8c" stroke-width="0.4"/>
<line x1="770.5" y1="290.1" x2="770.5" y2="308.8" stroke="#9c9c9c" stroke-width="0.55"/>
<rect x="769.12" y="302.1" width="2.8" height="6.1" fill="#b9b9b9" stroke="#8c8c8c" stroke-width="0.6"/>
<line x1="775.8" y1="296.8" x2="775.8" y2="318.5" stroke="#9c9c9c" stroke-width="0.55"/>
<rect x="774.33" y="306.2" width="3.0" height="2.1" fill="#2a73f0" stroke="#5b6b8c" stroke-width="0.4"/>
<line x1="781.1" y1="301.0" x2="781.1" y2="317.7" stroke="#9c9c9c" stroke-width="0.55"/>
<rect x="779.43" y="304.3" width="3.4" height="1.3" fill="#777"/>
<line x1="786.4" y1="286.8" x2="786.4" y2="314.3" stroke="#9c9c9c" stroke-width="0.55"/>
<rect x="784.94" y="289.1" width="3.0" height="15.3" fill="#2a73f0" stroke="#5b6b8c" stroke-width="0.4"/>
<line x1="791.7" y1="272.1" x2="791.7" y2="289.3" stroke="#9c9c9c" stroke-width="0.55"/>
<rect x="790.24" y="279.1" width="3.0" height="9.6" fill="#2a73f0" stroke="#5b6b8c" stroke-width="0.4"/>
<line x1="797.0" y1="256.4" x2="797.0" y2="282.6" stroke="#9c9c9c" stroke-width="0.55"/>
<rect x="795.55" y="260.6" width="3.0" height="18.1" fill="#2a73f0" stroke="#5b6b8c" stroke-width="0.4"/>
<line x1="802.4" y1="255.0" x2="802.4" y2="270.9" stroke="#9c9c9c" stroke-width="0.55"/>
<rect x="800.86" y="257.7" width="3.0" height="2.6" fill="#2a73f0" stroke="#5b6b8c" stroke-width="0.4"/>
<line x1="807.7" y1="240.0" x2="807.7" y2="274.7" stroke="#9c9c9c" stroke-width="0.55"/>
<rect x="806.26" y="257.3" width="2.8" height="12.1" fill="#b9b9b9" stroke="#8c8c8c" stroke-width="0.6"/>
<line x1="813.0" y1="259.7" x2="813.0" y2="298.1" stroke="#9c9c9c" stroke-width="0.55"/>
<rect x="811.57" y="270.0" width="2.8" height="19.3" fill="#b9b9b9" stroke="#8c8c8c" stroke-width="0.6"/>
<line x1="818.3" y1="284.3" x2="818.3" y2="307.6" stroke="#9c9c9c" stroke-width="0.55"/>
<rect x="816.87" y="289.6" width="2.8" height="4.7" fill="#b9b9b9" stroke="#8c8c8c" stroke-width="0.6"/>
<line x1="823.6" y1="290.1" x2="823.6" y2="313.8" stroke="#9c9c9c" stroke-width="0.55"/>
<rect x="822.18" y="294.6" width="2.8" height="16.9" fill="#b9b9b9" stroke="#8c8c8c" stroke-width="0.6"/>
<line x1="828.9" y1="297.6" x2="828.9" y2="312.2" stroke="#9c9c9c" stroke-width="0.55"/>
<rect x="827.49" y="298.8" width="2.8" height="12.8" fill="#fff" stroke="#8c8c8c" stroke-width="0.6"/>
<line x1="834.2" y1="294.3" x2="834.2" y2="307.6" stroke="#9c9c9c" stroke-width="0.55"/>
<rect x="832.69" y="297.0" width="3.0" height="1.8" fill="#2a73f0" stroke="#5b6b8c" stroke-width="0.4"/>
<circle cx="123.1" cy="60" r="3.1" fill="#2962ff"/>
<text x="363.4" y="225.3" font-size="4.6" fill="#9a9a9a" text-anchor="middle" font-weight="normal" >4</text>
<text x="416.5" y="247.1" font-size="4.6" fill="#9a9a9a" text-anchor="middle" font-weight="normal" >4</text>
<text x="464.5" y="292.0" font-size="4.6" fill="#9a9a9a" text-anchor="middle" font-weight="normal" >4</text>
<text x="310.4" y="317.6" font-size="4.6" fill="#9a9a9a" text-anchor="middle" font-weight="normal" >4</text>
<text x="656.0" y="348.6" font-size="4.6" fill="#9a9a9a" text-anchor="middle" font-weight="normal" >4</text>
<text x="623.4" y="373.3" font-size="4.6" fill="#9a9a9a" text-anchor="middle" font-weight="normal" >4</text>
<text x="628.5" y="419.3" font-size="4.6" fill="#9a9a9a" text-anchor="middle" font-weight="normal" >4</text>
<text x="888.6" y="306.6" font-size="4.6" fill="#9a9a9a" text-anchor="middle" font-weight="normal" >4</text>
<text x="771.7" y="328.0" font-size="4.6" fill="#9a9a9a" text-anchor="middle" font-weight="normal" >4</text>
<text x="888.8" y="168.5" font-size="4.6" fill="#9a9a9a" text-anchor="middle" font-weight="normal" >4</text>
<text x="543.8" y="250.9" font-size="4.6" fill="#9a9a9a" text-anchor="middle" font-weight="normal" >4</text>
<text x="495.9" y="227.0" font-size="4.6" fill="#9a9a9a" text-anchor="middle" font-weight="normal" >4</text>
<text x="512.3" y="234.2" font-size="4.6" fill="#9a9a9a" text-anchor="middle" font-weight="normal" >4</text>
<text x="888.7" y="393.5" font-size="4.6" fill="#9a9a9a" text-anchor="middle" font-weight="normal" >4</text>
<text x="740.0" y="343.4" font-size="4.6" fill="#9a9a9a" text-anchor="middle" font-weight="normal" >4</text>
<text x="118.9" y="95.2" font-size="4.6" fill="#9a9a9a" text-anchor="middle" font-weight="normal" >D</text>
<text x="410.7" y="198.6" font-size="4.6" fill="#9a9a9a" text-anchor="middle" font-weight="normal" >D</text>
<text x="480.9" y="212.2" font-size="4.6" fill="#9a9a9a" text-anchor="middle" font-weight="normal" >X</text>
<text x="503.8" y="206.6" font-size="4.6" fill="#9a9a9a" text-anchor="middle" font-weight="normal" >X</text>
<text x="502.0" y="242.5" font-size="4.6" fill="#9a9a9a" text-anchor="middle" font-weight="normal" >X</text>
<text x="640.4" y="337.0" font-size="4.6" fill="#9a9a9a" text-anchor="middle" font-weight="normal" >X</text>
<text x="677.4" y="402.1" font-size="4.6" fill="#9a9a9a" text-anchor="middle" font-weight="normal" >X</text>
<text x="717.0" y="368.6" font-size="4.6" fill="#9a9a9a" text-anchor="middle" font-weight="normal" >X</text>
<text x="701.4" y="384.6" font-size="4.6" fill="#9a9a9a" text-anchor="middle" font-weight="normal" >X</text>
<text x="844.4" y="324.5" font-size="4.6" fill="#9a9a9a" text-anchor="middle" font-weight="normal" >X</text>
<text x="149.0" y="305.4" font-size="4.4" fill="#9a9a9a" text-anchor="middle" font-weight="normal" >IB</text>
<text x="446.0" y="319.8" font-size="4.4" fill="#9a9a9a" text-anchor="middle" font-weight="normal" >IB</text>
<text x="610.6" y="365.0" font-size="4.4" fill="#9a9a9a" text-anchor="middle" font-weight="normal" >IB</text>
<text x="690.5" y="317.4" font-size="4.4" fill="#9a9a9a" text-anchor="middle" font-weight="normal" >IB</text>
<text x="892.0" y="56.3" font-size="4.9" fill="#8e8e8e" text-anchor="middle" font-weight="normal" >SH</text>
<text x="903.4" y="423.6" font-size="4.9" fill="#8e8e8e" text-anchor="middle" font-weight="normal" >SL</text>
<text x="909.6" y="311.0" font-size="4.2" fill="#aaa" text-anchor="start" font-weight="normal" >50%</text>
<line x1="982.7" y1="15.6" x2="982.7" y2="468.3" stroke="#aeb0b8" stroke-width="1.1"/>
<line x1="5.8" y1="452.5" x2="1018.6" y2="452.5" stroke="#8a8a8a" stroke-width="0.8"/>
<text x="988.0" y="22.9" font-size="7" fill="#1c1c1c" text-anchor="start" font-weight="normal" stroke="#1c1c1c" stroke-width="0.18" textLength="23.8" lengthAdjust="spacingAndGlyphs">1.19600</text>
<text x="988.0" y="41.8" font-size="7" fill="#1c1c1c" text-anchor="start" font-weight="normal" stroke="#1c1c1c" stroke-width="0.18" textLength="23.8" lengthAdjust="spacingAndGlyphs">1.19400</text>
<text x="988.0" y="60.8" font-size="7" fill="#1c1c1c" text-anchor="start" font-weight="normal" stroke="#1c1c1c" stroke-width="0.18" textLength="23.8" lengthAdjust="spacingAndGlyphs">1.19200</text>
<text x="988.0" y="79.8" font-size="7" fill="#1c1c1c" text-anchor="start" font-weight="normal" stroke="#1c1c1c" stroke-width="0.18" textLength="23.8" lengthAdjust="spacingAndGlyphs">1.19000</text>
<text x="988.0" y="98.7" font-size="7" fill="#1c1c1c" text-anchor="start" font-weight="normal" stroke="#1c1c1c" stroke-width="0.18" textLength="23.8" lengthAdjust="spacingAndGlyphs">1.18800</text>
<text x="988.0" y="117.7" font-size="7" fill="#1c1c1c" text-anchor="start" font-weight="normal" stroke="#1c1c1c" stroke-width="0.18" textLength="23.8" lengthAdjust="spacingAndGlyphs">1.18600</text>
<text x="988.0" y="136.6" font-size="7" fill="#1c1c1c" text-anchor="start" font-weight="normal" stroke="#1c1c1c" stroke-width="0.18" textLength="23.8" lengthAdjust="spacingAndGlyphs">1.18400</text>
<text x="988.0" y="155.6" font-size="7" fill="#1c1c1c" text-anchor="start" font-weight="normal" stroke="#1c1c1c" stroke-width="0.18" textLength="23.8" lengthAdjust="spacingAndGlyphs">1.18200</text>
<text x="988.0" y="174.5" font-size="7" fill="#1c1c1c" text-anchor="start" font-weight="normal" stroke="#1c1c1c" stroke-width="0.18" textLength="23.8" lengthAdjust="spacingAndGlyphs">1.18000</text>
<text x="988.0" y="193.4" font-size="7" fill="#1c1c1c" text-anchor="start" font-weight="normal" stroke="#1c1c1c" stroke-width="0.18" textLength="23.8" lengthAdjust="spacingAndGlyphs">1.17800</text>
<text x="988.0" y="212.4" font-size="7" fill="#1c1c1c" text-anchor="start" font-weight="normal" stroke="#1c1c1c" stroke-width="0.18" textLength="23.8" lengthAdjust="spacingAndGlyphs">1.17600</text>
<text x="988.0" y="231.3" font-size="7" fill="#1c1c1c" text-anchor="start" font-weight="normal" stroke="#1c1c1c" stroke-width="0.18" textLength="23.8" lengthAdjust="spacingAndGlyphs">1.17400</text>
<text x="988.0" y="250.3" font-size="7" fill="#1c1c1c" text-anchor="start" font-weight="normal" stroke="#1c1c1c" stroke-width="0.18" textLength="23.8" lengthAdjust="spacingAndGlyphs">1.17200</text>
<text x="988.0" y="269.2" font-size="7" fill="#1c1c1c" text-anchor="start" font-weight="normal" stroke="#1c1c1c" stroke-width="0.18" textLength="23.8" lengthAdjust="spacingAndGlyphs">1.17000</text>
<text x="988.0" y="288.2" font-size="7" fill="#1c1c1c" text-anchor="start" font-weight="normal" stroke="#1c1c1c" stroke-width="0.18" textLength="23.8" lengthAdjust="spacingAndGlyphs">1.16800</text>
<text x="988.0" y="326.1" font-size="7" fill="#1c1c1c" text-anchor="start" font-weight="normal" stroke="#1c1c1c" stroke-width="0.18" textLength="23.8" lengthAdjust="spacingAndGlyphs">1.16400</text>
<text x="988.0" y="345.0" font-size="7" fill="#1c1c1c" text-anchor="start" font-weight="normal" stroke="#1c1c1c" stroke-width="0.18" textLength="23.8" lengthAdjust="spacingAndGlyphs">1.16200</text>
<text x="988.0" y="364.0" font-size="7" fill="#1c1c1c" text-anchor="start" font-weight="normal" stroke="#1c1c1c" stroke-width="0.18" textLength="23.8" lengthAdjust="spacingAndGlyphs">1.16000</text>
<text x="988.0" y="382.9" font-size="7" fill="#1c1c1c" text-anchor="start" font-weight="normal" stroke="#1c1c1c" stroke-width="0.18" textLength="23.8" lengthAdjust="spacingAndGlyphs">1.15800</text>
<text x="988.0" y="401.9" font-size="7" fill="#1c1c1c" text-anchor="start" font-weight="normal" stroke="#1c1c1c" stroke-width="0.18" textLength="23.8" lengthAdjust="spacingAndGlyphs">1.15600</text>
<text x="988.0" y="420.8" font-size="7" fill="#1c1c1c" text-anchor="start" font-weight="normal" stroke="#1c1c1c" stroke-width="0.18" textLength="23.8" lengthAdjust="spacingAndGlyphs">1.15400</text>
<text x="988.0" y="439.8" font-size="7" fill="#1c1c1c" text-anchor="start" font-weight="normal" stroke="#1c1c1c" stroke-width="0.18" textLength="23.8" lengthAdjust="spacingAndGlyphs">1.15200</text>
<rect x="983.2" y="291.6" width="32.6" height="18.2" rx="1.6" fill="#131722"/>
<text x="988.0" y="299.2" font-size="7" fill="#fff" text-anchor="start" font-weight="bold" textLength="24.2" lengthAdjust="spacingAndGlyphs">1.16686</text>
<text x="988.0" y="307.5" font-size="7" fill="#f0f0f0" text-anchor="start" font-weight="normal" textLength="17.6" lengthAdjust="spacingAndGlyphs">31:06</text>
<text x="8.2" y="463.1" font-size="7.2" fill="#1c1c1c" text-anchor="middle" font-weight="normal" stroke="#1c1c1c" stroke-width="0.18" textLength="3.4" lengthAdjust="spacingAndGlyphs">2</text>
<text x="38.0" y="463.1" font-size="7.2" fill="#1c1c1c" text-anchor="middle" font-weight="normal" stroke="#1c1c1c" stroke-width="0.18" textLength="6.8" lengthAdjust="spacingAndGlyphs">15</text>
<text x="69.8" y="463.1" font-size="7.2" fill="#1c1c1c" text-anchor="middle" font-weight="normal" stroke="#1c1c1c" stroke-width="0.18" textLength="6.8" lengthAdjust="spacingAndGlyphs">16</text>
<text x="101.6" y="463.1" font-size="7.2" fill="#1c1c1c" text-anchor="middle" font-weight="normal" stroke="#1c1c1c" stroke-width="0.18" textLength="6.8" lengthAdjust="spacingAndGlyphs">17</text>
<text x="133.5" y="463.1" font-size="7.2" fill="#1c1c1c" text-anchor="middle" font-weight="normal" stroke="#1c1c1c" stroke-width="0.18" textLength="6.8" lengthAdjust="spacingAndGlyphs">18</text>
<text x="165.3" y="463.1" font-size="7.2" fill="#1c1c1c" text-anchor="middle" font-weight="normal" stroke="#1c1c1c" stroke-width="0.18" textLength="6.8" lengthAdjust="spacingAndGlyphs">19</text>
<text x="197.1" y="463.1" font-size="7.2" fill="#1c1c1c" text-anchor="middle" font-weight="normal" stroke="#1c1c1c" stroke-width="0.18" textLength="6.8" lengthAdjust="spacingAndGlyphs">22</text>
<text x="228.9" y="463.1" font-size="7.2" fill="#1c1c1c" text-anchor="middle" font-weight="normal" stroke="#1c1c1c" stroke-width="0.18" textLength="6.8" lengthAdjust="spacingAndGlyphs">23</text>
<text x="260.7" y="463.1" font-size="7.2" fill="#1c1c1c" text-anchor="middle" font-weight="normal" stroke="#1c1c1c" stroke-width="0.18" textLength="6.8" lengthAdjust="spacingAndGlyphs">24</text>
<text x="292.6" y="463.1" font-size="7.2" fill="#1c1c1c" text-anchor="middle" font-weight="normal" stroke="#1c1c1c" stroke-width="0.18" textLength="6.8" lengthAdjust="spacingAndGlyphs">25</text>
<text x="324.4" y="463.1" font-size="7.2" fill="#1c1c1c" text-anchor="middle" font-weight="normal" stroke="#1c1c1c" stroke-width="0.18" textLength="6.8" lengthAdjust="spacingAndGlyphs">26</text>
<text x="356.2" y="463.1" font-size="7.2" fill="#1c1c1c" text-anchor="middle" font-weight="normal" stroke="#1c1c1c" stroke-width="0.18" textLength="6.8" lengthAdjust="spacingAndGlyphs">29</text>
<text x="388.0" y="463.1" font-size="7.2" fill="#1c1c1c" text-anchor="middle" font-weight="normal" stroke="#1c1c1c" stroke-width="0.18" textLength="6.8" lengthAdjust="spacingAndGlyphs">30</text>
<text x="419.8" y="463.1" font-size="7.2" fill="#1c1c1c" text-anchor="middle" font-weight="normal" stroke="#1c1c1c" stroke-width="0.3" textLength="11.2" lengthAdjust="spacingAndGlyphs">Oct</text>
<text x="451.7" y="463.1" font-size="7.2" fill="#1c1c1c" text-anchor="middle" font-weight="normal" stroke="#1c1c1c" stroke-width="0.18" textLength="3.4" lengthAdjust="spacingAndGlyphs">2</text>
<text x="483.5" y="463.1" font-size="7.2" fill="#1c1c1c" text-anchor="middle" font-weight="normal" stroke="#1c1c1c" stroke-width="0.18" textLength="3.4" lengthAdjust="spacingAndGlyphs">3</text>
<text x="515.3" y="463.1" font-size="7.2" fill="#1c1c1c" text-anchor="middle" font-weight="normal" stroke="#1c1c1c" stroke-width="0.18" textLength="3.4" lengthAdjust="spacingAndGlyphs">6</text>
<text x="547.1" y="463.1" font-size="7.2" fill="#1c1c1c" text-anchor="middle" font-weight="normal" stroke="#1c1c1c" stroke-width="0.18" textLength="3.4" lengthAdjust="spacingAndGlyphs">7</text>
<text x="578.9" y="463.1" font-size="7.2" fill="#1c1c1c" text-anchor="middle" font-weight="normal" stroke="#1c1c1c" stroke-width="0.18" textLength="3.4" lengthAdjust="spacingAndGlyphs">8</text>
<text x="610.8" y="463.1" font-size="7.2" fill="#1c1c1c" text-anchor="middle" font-weight="normal" stroke="#1c1c1c" stroke-width="0.18" textLength="3.4" lengthAdjust="spacingAndGlyphs">9</text>
<text x="642.6" y="463.1" font-size="7.2" fill="#1c1c1c" text-anchor="middle" font-weight="normal" stroke="#1c1c1c" stroke-width="0.18" textLength="6.8" lengthAdjust="spacingAndGlyphs">10</text>
<text x="674.4" y="463.1" font-size="7.2" fill="#1c1c1c" text-anchor="middle" font-weight="normal" stroke="#1c1c1c" stroke-width="0.18" textLength="6.8" lengthAdjust="spacingAndGlyphs">13</text>
<text x="706.2" y="463.1" font-size="7.2" fill="#1c1c1c" text-anchor="middle" font-weight="normal" stroke="#1c1c1c" stroke-width="0.18" textLength="6.8" lengthAdjust="spacingAndGlyphs">14</text>
<text x="738.0" y="463.1" font-size="7.2" fill="#1c1c1c" text-anchor="middle" font-weight="normal" stroke="#1c1c1c" stroke-width="0.18" textLength="6.8" lengthAdjust="spacingAndGlyphs">15</text>
<text x="769.9" y="463.1" font-size="7.2" fill="#1c1c1c" text-anchor="middle" font-weight="normal" stroke="#1c1c1c" stroke-width="0.18" textLength="6.8" lengthAdjust="spacingAndGlyphs">16</text>
<text x="801.7" y="463.1" font-size="7.2" fill="#1c1c1c" text-anchor="middle" font-weight="normal" stroke="#1c1c1c" stroke-width="0.18" textLength="6.8" lengthAdjust="spacingAndGlyphs">17</text>
<text x="833.5" y="463.1" font-size="7.2" fill="#1c1c1c" text-anchor="middle" font-weight="normal" stroke="#1c1c1c" stroke-width="0.18" textLength="6.8" lengthAdjust="spacingAndGlyphs">20</text>
<text x="865.3" y="463.1" font-size="7.2" fill="#1c1c1c" text-anchor="middle" font-weight="normal" stroke="#1c1c1c" stroke-width="0.18" textLength="6.8" lengthAdjust="spacingAndGlyphs">21</text>
<text x="897.1" y="463.1" font-size="7.2" fill="#1c1c1c" text-anchor="middle" font-weight="normal" stroke="#1c1c1c" stroke-width="0.18" textLength="6.8" lengthAdjust="spacingAndGlyphs">22</text>
<text x="929.0" y="463.1" font-size="7.2" fill="#1c1c1c" text-anchor="middle" font-weight="normal" stroke="#1c1c1c" stroke-width="0.18" textLength="6.8" lengthAdjust="spacingAndGlyphs">23</text>
<text x="960.8" y="463.1" font-size="7.2" fill="#1c1c1c" text-anchor="middle" font-weight="normal" stroke="#1c1c1c" stroke-width="0.18" textLength="6.8" lengthAdjust="spacingAndGlyphs">24</text>
<g transform="translate(834,444.4)"><circle r="5.3" fill="#fff" stroke="#b14fd6" stroke-width="1.25"/><path d="M1.1,-3.6 L-2.6,0.6 L-0.4,0.6 L-1.1,3.6 L2.6,-0.7 L0.4,-0.7 Z" fill="#b14fd6"/><circle cx="4.1" cy="-4.1" r="1.9" fill="#fff"/><circle cx="4.1" cy="-4.1" r="1.4" fill="#f23645"/></g>
<text x="5.8" y="11.0" font-size="6.4" fill="#1e1e1e" stroke="#1e1e1e" stroke-width="0.25" textLength="214.7" lengthAdjust="spacingAndGlyphs" id="hdr">Amr-Sadek created with TradingView.com, Oct 20, 2025 05:28 UTC+1</text>
<text x="10.0" y="26.9" font-size="6.4" fill="#1e1e1e" stroke="#1e1e1e" stroke-width="0.25" textLength="78.9" lengthAdjust="spacingAndGlyphs" id="leg">EURUSD · 4h · FOREXCOM</text>
<text x="93.4" y="26.9" font-size="6.4" fill="#1e1e1e" stroke="#1e1e1e" stroke-width="0.25" textLength="29.2" lengthAdjust="spacingAndGlyphs">O<tspan fill="#606060" stroke="none">1.16666</tspan></text>
<text x="127" y="26.9" font-size="6.4" fill="#1e1e1e" stroke="#1e1e1e" stroke-width="0.25" textLength="28.8" lengthAdjust="spacingAndGlyphs">H<tspan fill="#606060" stroke="none">1.16708</tspan></text>
<text x="160.2" y="26.9" font-size="6.4" fill="#1e1e1e" stroke="#1e1e1e" stroke-width="0.25" textLength="27.6" lengthAdjust="spacingAndGlyphs">L<tspan fill="#606060" stroke="none">1.16567</tspan></text>
<text x="192.3" y="26.9" font-size="6.4" fill="#1e1e1e" stroke="#1e1e1e" stroke-width="0.25" textLength="28.2" lengthAdjust="spacingAndGlyphs">C<tspan fill="#606060" stroke="none">1.16686</tspan></text>
<text x="225" y="26.9" font-size="6.4" fill="#606060" textLength="56.5" lengthAdjust="spacingAndGlyphs">+0.00020 (+0.02%)</text>
<g fill="#131313"><path d="M6.8,481.1 H15.2 V489.7 H10.8 V484.8 H6.8 Z"/><circle cx="17.4" cy="482.6" r="1.45"/><path d="M19.9,481.1 H24.1 L20.6,489.7 H16.4 Z"/></g>
<text id="logo" x="28.7" y="489.7" font-size="11.5" fill="#131313" stroke="#131313" stroke-width="0.38" textLength="69.2" lengthAdjust="spacingAndGlyphs">TradingView</text>
</svg></body></html>
